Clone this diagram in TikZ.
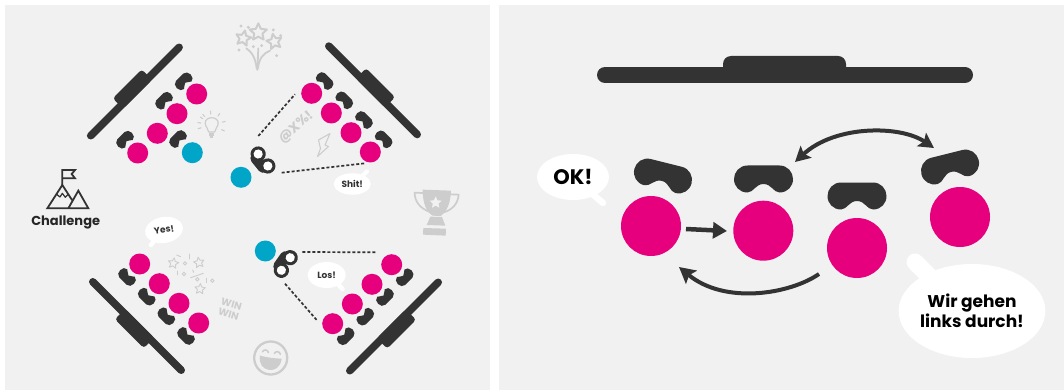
\documentclass[tikz,border=0pt]{standalone}
\usepackage{fontspec}
\setmainfont{Poppins}
\usetikzlibrary{arrows.meta,shapes.geometric}
\definecolor{panelbg}{HTML}{F1F1F1}
\definecolor{inkdark}{HTML}{333333}
\definecolor{pinkc}{HTML}{E6007E}
\definecolor{cyanc}{HTML}{00A5C8}
\definecolor{iconc}{HTML}{CDCDCD}
\tikzset{
  panelbox/.style={fill=panelbg,draw=none},
  bigdot/.style={circle,fill=pinkc,draw=none,minimum size=60pt,inner sep=0pt},
  smalldot/.style={circle,fill=pinkc,draw=none,minimum size=21pt,inner sep=0pt},
  guide/.style={circle,fill=cyanc,draw=none,minimum size=21pt,inner sep=0pt},
  sightline/.style={draw=inkdark,line width=1.7pt,dash pattern=on 3pt off 2pt},
  bubble/.style={ellipse,fill=white,draw=none,inner sep=0pt,align=center,text=black},
  tail/.style={draw=white,line cap=round},
  flowline/.style={draw=inkdark,line cap=butt},
  icontext/.style={text=iconc,font=\bfseries,inner sep=0pt,align=center},
  iconline/.style={draw=iconc,line cap=round,line join=round},
  starout/.style={star,star points=5,star point ratio=2.1,draw=iconc,fill=none,inner sep=0pt,line join=round},
  seatmask/.style={xscale=.33,yscale=.42},
  boardbar/.pic={
    \draw[inkdark,line width=7.6pt,line cap=round] (-62.5,0) -- (62.5,0);
    \fill[inkdark,rounded corners=3.2pt] (-20.5,-10.8) rectangle (20.5,3.8);
  },
  maskp/.pic={
    \fill[inkdark] (-16,-13.5) -- (16,-13.5)
      .. controls (24,-13.5) and (29.5,-7) .. (29.5,0)
      .. controls (29.5,7.5) and (24,13.5) .. (16,13.5)
      .. controls (10,13.5) and (8,5) .. (0,5)
      .. controls (-8,5) and (-10,13.5) .. (-16,13.5)
      .. controls (-24,13.5) and (-29.5,7.5) .. (-29.5,0)
      .. controls (-29.5,-7) and (-24,-13.5) .. (-16,-13.5) -- cycle;
  },
  binoc/.pic={
    \draw[inkdark,line width=10pt,line cap=round] (-6,5) -- (6,5);
    \fill[inkdark] (-7.7,0) circle[radius=7.6] (7.7,0) circle[radius=7.6];
    \fill[white] (-7.7,0) circle[radius=4.6] (7.7,0) circle[radius=4.6];
  }
}
\begin{document}
\begin{tikzpicture}[x=1pt,y=-1pt]
\useasboundingbox (0,0) rectangle (1064,390);
\fill[white] (0,0) rectangle (1064,390);
\fill[panelbox] (5,5) rectangle (490,390);
\fill[panelbox] (499,5) rectangle (1064,390);

% ---- top-left group
\pic[rotate=45] at (134.9,91.5) {boardbar};
\foreach \n/\x/\y in {a/196.7/94,b/177/113.7,c/157.3/133.3,d/137.7/153}
  \node[smalldot] (tl\n) at (\x,\y) {};
\node[guide] (tlg) at (192.3,152.7) {};
\foreach \x/\y in {183.7/81.3,164/100.7,125/139.7,178/139}
  \pic[rotate=45,seatmask] at (\x,\y) {maskp};

% ---- top-right group
\pic[rotate=-45] at (373,90.3) {boardbar};
\foreach \n/\x/\y in {a/311.7/93.3,b/331.3/113,c/351/132.7,d/370.3/152}
  \node[smalldot] (tr\n) at (\x,\y) {};
\foreach \x/\y in {324.7/81,344.3/100.3,364/120,383.7/139.3}
  \pic[rotate=-45,seatmask] at (\x,\y) {maskp};
\node[guide] (trg) at (241,177.3) {};
\pic[rotate=-51] at (263,160) {binoc};
\coordinate (trs1) at (258.3,136); \coordinate (trs2) at (295,94.3);
\coordinate (trs3) at (281.7,172.7); \coordinate (trs4) at (365,163.3);
\draw[sightline] (trs1) -- (trs2);
\draw[sightline] (trs3) -- (trs4);

% ---- bottom-left group
\pic[rotate=135] at (137,326) {boardbar};
\foreach \n/\x/\y in {a/139.7/264,b/159.3/283.7,c/179/303.3,d/198.7/323}
  \node[smalldot] (bl\n) at (\x,\y) {};
\foreach \x/\y in {127/277,146.7/296.7,166.3/316.3,186/336}
  \pic[rotate=135,seatmask] at (\x,\y) {maskp};

% ---- bottom-right group
\pic[rotate=-135] at (394,326.5) {boardbar};
\foreach \n/\x/\y in {a/391.7/264.7,b/372/284.3,c/352.3/304,d/332.7/323.7}
  \node[smalldot] (br\n) at (\x,\y) {};
\foreach \x/\y in {404.7/277.3,385/297,365.3/316.7,345.7/336.3}
  \pic[rotate=-135,seatmask] at (\x,\y) {maskp};
\node[guide] (brg) at (265.3,251) {};
\pic[rotate=-125] at (285.8,264) {binoc};
\coordinate (brs1) at (302.3,252); \coordinate (brs2) at (376,252.3);
\coordinate (brs3) at (285,283.7); \coordinate (brs4) at (316.7,320);
\draw[sightline] (brs1) -- (brs2);
\draw[sightline] (brs3) -- (brs4);

% ---- small speech bubbles
\coordinate (shittip) at (367,171.5);
\draw[tail,line width=4pt] (358,180) -- (shittip);
\node[bubble,minimum width=37pt,minimum height=21.5pt,font=\fontsize{9}{10}\bfseries,text=inkdark] (shit) at (352.3,184) {Shit!};
\coordinate (yestip) at (151,245);
\draw[tail,line width=4.5pt] (158,236) -- (yestip);
\node[bubble,rotate=10,minimum width=38pt,minimum height=26pt,font=\fontsize{9}{10}\bfseries,text=inkdark] (yes) at (164,230) {Yes!};
\coordinate (lostip) at (342.5,289);
\draw[tail,line width=4.5pt] (334,280) -- (lostip);
\node[bubble,minimum width=38pt,minimum height=26pt,font=\fontsize{9}{10}\bfseries,text=inkdark] (los) at (326.7,275) {Los!};

% ---- mountain icon
\begin{scope}[shift={(30,160)},scale=.3333]
\draw[inkdark,line width=1.8pt,line join=miter] (97,75) -- (97,30) -- (135,30) -- (125,42) -- (135,55) -- (97,55);
\draw[inkdark,line width=1.8pt,line join=miter] (115,145) -- (145,92) -- (175,145) -- (52,145) -- (97,75) -- (126,120);
\draw[inkdark,line width=1.2pt,line join=round] (80,103) -- (90,111) -- (97,100) -- (106,112) -- (114,103);
\end{scope}
\node[inner sep=0pt,font=\fontsize{13}{14}\bfseries,text=black!85] (challenge) at (65.7,222) {Challenge};

% ---- fireworks icon
\begin{scope}[shift={(225,15)},scale=.3333]
\node[starout,line width=2pt,minimum size=18pt] (fw1) at (100,52) {};
\node[starout,line width=2pt,minimum size=16pt,rotate=-12] (fw2) at (55,70) {};
\node[starout,line width=2pt,minimum size=16pt,rotate=12] (fw3) at (148,80) {};
\draw[iconline,line width=1.8pt] (97,165) -- (100,100);
\draw[iconline,line width=1.8pt] (95,160) .. controls (92,130) and (80,110) .. (64,100);
\draw[iconline,line width=1.8pt] (99,160) .. controls (102,130) and (115,115) .. (135,107);
\foreach \x/\y in {48/33,70/37,145/45,167/62,42/105,155/122,85/95,110/92}
  \fill[iconc] (\x,\y) circle[radius=5];
\end{scope}

% ---- light bulb icon
\begin{scope}[shift={(211.7,125)}]
\draw[iconline,line width=1.2pt] (-3,7) .. controls (-3,3) and (-6.5,2.5) .. (-6.5,-2) .. controls (-6.5,-9) and (6.5,-9) .. (6.5,-2) .. controls (6.5,2.5) and (3,3) .. (3,7) -- cycle;
\fill[iconc] (-3.2,8) rectangle (2.6,11.5);
\fill[iconc] (-2.2,11.5) rectangle (1.6,13);
\foreach \a in {-170,-130,-95,-55,-15,25,165,215}
  \draw[iconline,line width=1.1pt] ({\a+0}:11) -- ({\a+0}:14);
\end{scope}

% ---- @X%! and lightning
\node[icontext,rotate=41,font=\fontsize{13.5}{15}\bfseries] (curse) at (296,127.7) {@X\%!};
\draw[iconline,line width=1.1pt] (330,133.5) -- (318.5,140) -- (320.5,148.5) -- (317.5,156.5) -- (328.5,146.5) -- (325,145) -- cycle;

% ---- trophy icon
\begin{scope}[shift={(400,180)},scale=.3333]
\draw[iconline,line width=1.7pt] (68,39) -- (44,38) .. controls (44,65) and (60,85) .. (90,96);
\draw[iconline,line width=1.7pt] (152,43) -- (176,44) .. controls (174,70) and (158,90) .. (128,98);
\fill[iconc] (68,29) -- (153,32) .. controls (152,70) and (140,95) .. (122,108) -- (98,107) .. controls (78,95) and (68,68) .. cycle;
\node[star,star points=5,star point ratio=2.1,fill=panelbg,draw=none,inner sep=0pt,minimum size=12.5pt] (cupstar) at (107,68) {};
\fill[iconc] (91,110) -- (126,111) -- (136,137) -- (80,135) -- cycle;
\fill[iconc] (70,144) -- (138,146) -- (137,167) -- (69,164) -- cycle;
\end{scope}

% ---- smiley icon
\begin{scope}[shift={(270.7,358)},rotate=-8]
\draw[iconc,line width=2.3pt] (0,0) circle[radius=16.5];
\fill[iconc] (-11,-1) .. controls (-6,0) and (6,0) .. (11,-1) .. controls (11,8) and (6,12) .. (0,12) .. controls (-6,12) and (-11,8) .. (-11,-1) -- cycle;
\draw[iconline,line width=1.6pt] (-9,-5) .. controls (-8,-8) and (-4,-8) .. (-3,-5);
\draw[iconline,line width=1.6pt] (3,-5) .. controls (4,-8) and (8,-8) .. (9,-5);
\end{scope}

% ---- WIN WIN
\node[icontext,rotate=-16,font=\fontsize{10}{10.5}\bfseries] (winwin) at (230,309) {WIN\\WIN};

% ---- party stars
\begin{scope}[shift={(150,240)},scale=.3333]
\node[starout,line width=.9pt,minimum size=11pt,rotate=-10] (ps1) at (70,70) {};
\node[starout,line width=.9pt,minimum size=11pt,rotate=10] (ps2) at (147,68) {};
\node[starout,line width=.9pt,minimum size=11pt,rotate=-5] (ps3) at (150,147) {};
\foreach \x/\y in {105/70,102/102,142/118,187/122}
  \draw[iconc,line width=.9pt] (\x,\y) circle[radius=5];
\draw[iconline,line width=.9pt] (80,45) -- (92,50);
\draw[iconline,line width=.9pt] (117,42) -- (117,57);
\draw[iconline,line width=.9pt] (82,93) -- (82,105);
\draw[iconline,line width=.9pt] (128,90) -- (131,97);
\draw[iconline,line width=.9pt] (122,113) -- (160,100);
\draw[iconline,line width=.9pt] (168,115) -- (168,128);
\end{scope}

% ---- right panel
\draw[inkdark,line width=16pt,line cap=round] (605,75) -- (965,75);
\fill[inkdark,rounded corners=8pt] (723,56) rectangle (846,83);

\pic[rotate=-14] at (663,176) {maskp};
\pic at (763.5,179) {maskp};
\pic at (857,196) {maskp};
\pic[rotate=14] at (950,167) {maskp};

\node[bigdot] (p1) at (651,226) {};
\node[bigdot] (p2) at (763.3,230.7) {};
\node[bigdot] (p3) at (857,248) {};
\node[bigdot] (p4) at (960,217) {};

\draw[flowline,line width=4.5pt,-{Triangle[length=14pt,width=16pt]}] (p1) ++(35,3) -- ++(41,2);
\coordinate (a2s) at (819,274); \coordinate (a2e) at (679,267);
\draw[flowline,line width=4pt,-{Stealth[length=16pt,width=17pt,inset=3pt]}] (a2s) .. controls (790,294) and (725,305) .. (a2e);
\coordinate (a3s) at (795,162); \coordinate (a3e) at (934,148);
\draw[flowline,line width=4pt,{Stealth[length=15pt,width=16pt,inset=3pt]}-{Stealth[length=15pt,width=16pt,inset=3pt]}] (a3s) .. controls (835,125) and (900,125) .. (a3e);

\coordinate (oktip) at (603,203);
\draw[tail,line width=6.5pt] (590,192) -- (oktip);
\node[bubble,minimum width=72pt,minimum height=46pt,font=\fontsize{21}{23}\bfseries] (ok) at (573,177) {OK!};

\coordinate (wirtip) at (915,262);
\draw[tail,line width=17pt] (wirtip) -- (945,292);
\node[bubble,minimum width=144pt,minimum height=94pt,font=\fontsize{17}{19.5}\bfseries] (wir) at (972,311) {Wir gehen\\links durch!};
\end{tikzpicture}
\end{document}
